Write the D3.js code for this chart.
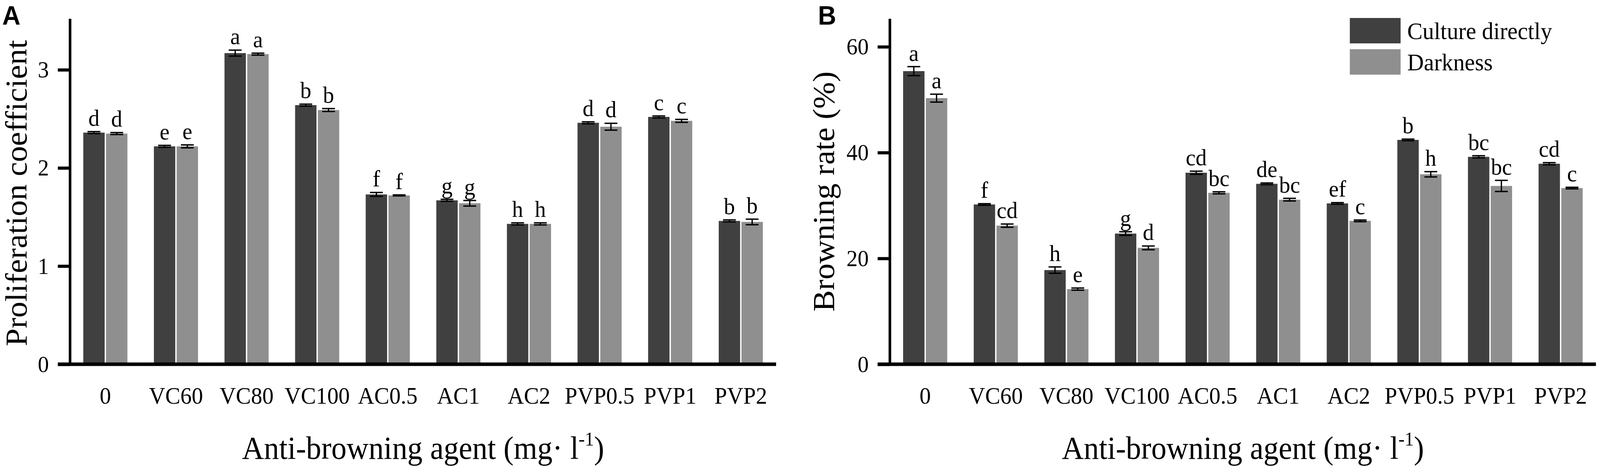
<!DOCTYPE html>
<html>
<head>
<meta charset="utf-8">
<script src="https://cdn.jsdelivr.net/npm/d3@7"></script>
<style>
  html, body { margin: 0; padding: 0; width: 100%; height: 100%; overflow: hidden; background: #fff; }
  #chart { width: 100vw; height: 100vh; }
  svg { display: block; width: 100%; height: 100%; }
</style>
</head>
<body>
<div id="chart"></div>
<script>
// categories and series
const categories = ["0", "VC60", "VC80", "VC100", "AC0.5", "AC1", "AC2", "PVP0.5", "PVP1", "PVP2"];
const seriesNames = ["Culture directly", "Darkness"];

// panel A - proliferation coefficient
const profDirect = [2.36, 2.22, 3.17, 2.64, 1.73, 1.67, 1.43, 2.46, 2.52, 1.46];
const profDark = [2.35, 2.22, 3.16, 2.59, 1.72, 1.64, 1.43, 2.42, 2.48, 1.45];
const profDirectErr = [0.01, 0.01, 0.03, 0.01, 0.02, 0.01, 0.01, 0.01, 0.01, 0.01];
const profDarkErr = [0.01, 0.015, 0.01, 0.015, 0.005, 0.028, 0.01, 0.035, 0.015, 0.028];
const profDirectSig = ["d", "e", "a", "b", "f", "g", "h", "d", "c", "b"];
const profDarkSig = ["d", "e", "a", "b", "f", "g", "h", "d", "c", "b"];
const profTicks = [0, 1, 2, 3];

// panel B - browning rate (%)
const brownDirect = [55.4, 30.2, 17.8, 24.7, 36.2, 34.1, 30.4, 42.4, 39.2, 37.9];
const brownDark = [50.3, 26.2, 14.2, 22.0, 32.4, 31.1, 27.1, 35.9, 33.7, 33.3];
const brownDirectErr = [0.85, 0.15, 0.6, 0.35, 0.3, 0.15, 0.15, 0.15, 0.2, 0.2];
const brownDarkErr = [0.75, 0.3, 0.2, 0.35, 0.2, 0.25, 0.15, 0.5, 1.05, 0.15];
const brownDirectSig = ["a", "f", "h", "g", "cd", "de", "ef", "b", "bc", "cd"];
const brownDarkSig = ["a", "cd", "e", "d", "bc", "bc", "c", "h", "bc", "c"];
const brownTicks = [0, 20, 40, 60];

const W = 4317, H = 1218;
const serif = "'Liberation Serif', 'Times New Roman', serif";
const colors = ["#404040", "#8f8f8f"];
const y0px = 932, yTop = 48;

// drawn in a fixed 4317x1218 coordinate space, stretched to the window
const svg = d3.select("#chart").append("svg")
  .attr("viewBox", `0 0 ${W} ${H}`)
  .attr("preserveAspectRatio", "none");

function drawPanel(p) {
  const g = svg.append("g");

  const x0 = d3.scaleBand()
    .domain(categories)
    .range([p.left, p.left + 1905])
    .paddingInner(0.375)
    .paddingOuter(0.1875);

  const x1 = d3.scaleBand()
    .domain(seriesNames)
    .range([0, x0.bandwidth()])
    .paddingInner(0.06);

  const y = d3.scaleLinear()
    .domain([0, p.yMax])
    .range([y0px, yTop]);

  const color = d3.scaleOrdinal().domain(seriesNames).range(colors);

  const rows = categories.map((c, i) => ({
    cat: c,
    bars: [
      {s: seriesNames[0], v: p.direct[i], e: p.directErr[i], sig: p.directSig[i]},
      {s: seriesNames[1], v: p.dark[i], e: p.darkErr[i], sig: p.darkSig[i]}
    ]
  }));

  const grp = g.selectAll("g.grp")
    .data(rows)
    .join("g")
      .attr("class", "grp")
      .attr("transform", d => `translate(${x0(d.cat)},0)`);

  // bars
  grp.selectAll("rect")
    .data(d => d.bars)
    .join("rect")
      .attr("x", d => x1(d.s))
      .attr("y", d => y(d.v))
      .attr("width", x1.bandwidth())
      .attr("height", d => y(0) - y(d.v))
      .attr("fill", d => color(d.s));

  // error bars
  const capW = x1.bandwidth() * 0.6;
  const eb = grp.selectAll("g.err")
    .data(d => d.bars)
    .join("g")
      .attr("class", "err")
      .attr("stroke", "#000")
      .attr("stroke-width", 3.5);
  eb.append("line")
    .attr("x1", d => x1(d.s) + x1.bandwidth() / 2)
    .attr("x2", d => x1(d.s) + x1.bandwidth() / 2)
    .attr("y1", d => y(d.v + d.e))
    .attr("y2", d => y(d.v - d.e));
  eb.append("line")
    .attr("x1", d => x1(d.s) + (x1.bandwidth() - capW) / 2)
    .attr("x2", d => x1(d.s) + (x1.bandwidth() + capW) / 2)
    .attr("y1", d => y(d.v + d.e))
    .attr("y2", d => y(d.v + d.e));
  eb.append("line")
    .attr("x1", d => x1(d.s) + (x1.bandwidth() - capW) / 2)
    .attr("x2", d => x1(d.s) + (x1.bandwidth() + capW) / 2)
    .attr("y1", d => y(d.v - d.e))
    .attr("y2", d => y(d.v - d.e));

  // significance letters
  grp.selectAll("text.sig")
    .data(d => d.bars)
    .join("text")
      .attr("class", "sig")
      .attr("x", d => x1(d.s) + x1.bandwidth() / 2)
      .attr("y", d => y(d.v + d.e) - 15)
      .attr("text-anchor", "middle")
      .attr("font-family", serif)
      .attr("font-size", "60px")
      .attr("fill", "#000")
      .text(d => d.sig);

  // y axis
  const yAxis = g.append("g")
    .attr("transform", `translate(${p.left},0)`)
    .call(d3.axisLeft(y).tickValues(p.ticks).tickSize(33).tickPadding(24).tickFormat(d3.format("d")));
  yAxis.select(".domain").remove();
  yAxis.selectAll(".tick line").attr("stroke", "#000").attr("stroke-width", 8);
  yAxis.selectAll(".tick text")
    .attr("font-family", serif)
    .attr("font-size", "60px")
    .attr("fill", "#000");

  g.append("line")
    .attr("x1", p.left).attr("x2", p.left)
    .attr("y1", yTop).attr("y2", y0px + 4)
    .attr("stroke", "#000").attr("stroke-width", 7);

  // x axis
  const xAxis = g.append("g")
    .attr("transform", `translate(0,${y0px})`)
    .call(d3.axisBottom(x0).tickSize(0));
  xAxis.select(".domain").remove();
  xAxis.selectAll(".tick text")
    .attr("y", 101)
    .attr("dy", null)
    .attr("font-family", serif)
    .attr("font-size", "61px")
    .attr("fill", "#000");

  g.append("line")
    .attr("x1", p.left - 33).attr("x2", x0.range()[1])
    .attr("y1", y0px).attr("y2", y0px)
    .attr("stroke", "#000").attr("stroke-width", 9);

  // axis titles
  g.append("text")
    .attr("transform", `translate(${p.titleX},${p.titleY}) rotate(-90)`)
    .attr("text-anchor", "middle")
    .attr("font-family", serif)
    .attr("font-size", "82px")
    .attr("fill", "#000")
    .text(p.yTitle);

  const xt = g.append("text")
    .attr("x", (x0.range()[0] + x0.range()[1]) / 2)
    .attr("y", 1174)
    .attr("text-anchor", "middle")
    .attr("font-family", serif)
    .attr("font-size", "82px")
    .attr("fill", "#000");
  xt.append("tspan").text("Anti-browning agent (mg\u00b7 l");
  xt.append("tspan").attr("font-size", "50px").attr("dy", -34).text("-1");
  xt.append("tspan").attr("dy", 34).text(")");

  // panel letter
  g.append("text")
    .attr("x", p.letterX)
    .attr("y", 63)
    .attr("font-family", "'Liberation Sans', Arial, sans-serif")
    .attr("font-weight", "bold")
    .attr("font-size", "68px")
    .attr("fill", "#000")
    .text(p.letter);

  return {x0, y};
}

drawPanel({
  left: 189, yMax: 3.52, ticks: profTicks,
  direct: profDirect, dark: profDark,
  directErr: profDirectErr, darkErr: profDarkErr,
  directSig: profDirectSig, darkSig: profDarkSig,
  yTitle: "Proliferation coefficient", titleX: 72, titleY: 494,
  letter: "A", letterX: 6
});

drawPanel({
  left: 2401, yMax: 65.3, ticks: brownTicks,
  direct: brownDirect, dark: brownDark,
  directErr: brownDirectErr, darkErr: brownDarkErr,
  directSig: brownDirectSig, darkSig: brownDarkSig,
  yTitle: "Browning rate (%)", titleX: 2250, titleY: 490,
  letter: "B", letterX: 2207
});

// legend (panel B)
const legend = svg.append("g")
  .attr("transform", "translate(3642,46)");
const li = legend.selectAll("g")
  .data(seriesNames)
  .join("g")
    .attr("transform", (d, i) => `translate(0,${i * 80})`);
li.append("rect")
  .attr("width", 137)
  .attr("height", 65)
  .attr("fill", (d, i) => colors[i]);
li.append("text")
  .attr("x", 155)
  .attr("y", 54)
  .attr("font-family", serif)
  .attr("font-size", "62px")
  .attr("fill", "#000")
  .text(d => d);
</script>
</body>
</html>
